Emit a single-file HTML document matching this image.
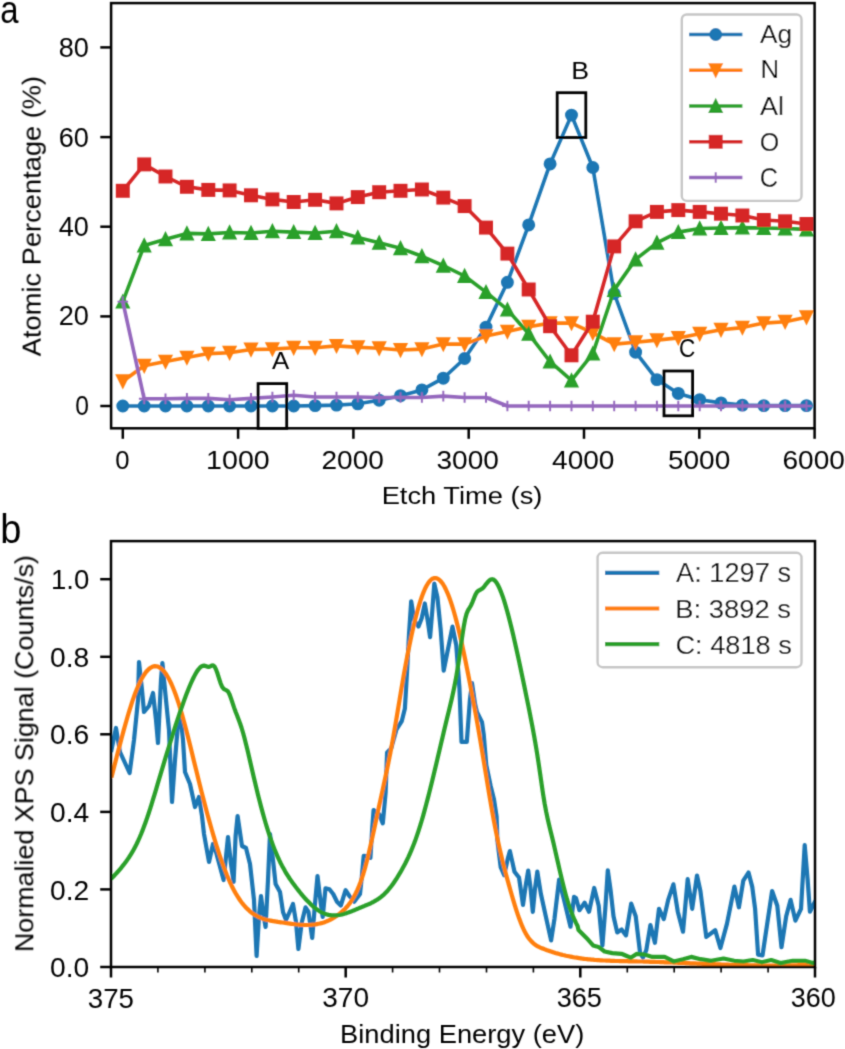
<!DOCTYPE html>
<html><head><meta charset="utf-8"><style>
html,body{margin:0;padding:0;background:#fff;}
svg{display:block;}
text{font-family:"Liberation Sans",sans-serif;fill:#000;}
</style></head><body>
<svg width="845" height="1049" viewBox="0 0 845 1049">
<defs><filter id="soft" x="0" y="0" width="845" height="1049" filterUnits="userSpaceOnUse"><feConvolveMatrix order="3" kernelMatrix="0.02768 0.11101 0.02768 0.11101 0.44521 0.11101 0.02768 0.11101 0.02768" edgeMode="duplicate"/></filter><clipPath id="clipA"><rect x="111.1" y="3.1" width="703.5" height="425.2"/></clipPath>
<clipPath id="clipB"><rect x="111.0" y="541.1" width="704.0" height="425.9"/></clipPath></defs>
<rect x="0" y="0" width="845" height="1049" fill="#fff"/>
<g filter="url(#soft)">
<g clip-path="url(#clipA)">
<polyline points="122.8,406.0 144.2,406.0 165.5,406.0 186.9,406.0 208.3,406.0 229.6,406.0 251.0,406.0 272.4,406.0 293.7,406.0 315.1,405.6 336.5,405.1 357.8,403.8 379.2,400.2 400.5,395.7 421.9,389.9 443.3,378.2 464.6,358.5 486.0,327.1 507.4,282.3 528.7,224.9 550.1,163.9 571.5,115.1 592.8,167.5 614.2,293.5 635.6,352.2 656.9,379.6 678.3,393.4 699.7,399.7 721.0,402.9 742.4,405.1 763.8,405.6 785.1,405.6 806.5,405.6" fill="none" stroke="#1f77b4" stroke-width="3.6" stroke-linejoin="round" stroke-linecap="butt"/>
<circle cx="122.8" cy="406.0" r="5.5" fill="#1f77b4" stroke="#1f77b4" stroke-width="1.95"/>
<circle cx="144.2" cy="406.0" r="5.5" fill="#1f77b4" stroke="#1f77b4" stroke-width="1.95"/>
<circle cx="165.5" cy="406.0" r="5.5" fill="#1f77b4" stroke="#1f77b4" stroke-width="1.95"/>
<circle cx="186.9" cy="406.0" r="5.5" fill="#1f77b4" stroke="#1f77b4" stroke-width="1.95"/>
<circle cx="208.3" cy="406.0" r="5.5" fill="#1f77b4" stroke="#1f77b4" stroke-width="1.95"/>
<circle cx="229.6" cy="406.0" r="5.5" fill="#1f77b4" stroke="#1f77b4" stroke-width="1.95"/>
<circle cx="251.0" cy="406.0" r="5.5" fill="#1f77b4" stroke="#1f77b4" stroke-width="1.95"/>
<circle cx="272.4" cy="406.0" r="5.5" fill="#1f77b4" stroke="#1f77b4" stroke-width="1.95"/>
<circle cx="293.7" cy="406.0" r="5.5" fill="#1f77b4" stroke="#1f77b4" stroke-width="1.95"/>
<circle cx="315.1" cy="405.6" r="5.5" fill="#1f77b4" stroke="#1f77b4" stroke-width="1.95"/>
<circle cx="336.5" cy="405.1" r="5.5" fill="#1f77b4" stroke="#1f77b4" stroke-width="1.95"/>
<circle cx="357.8" cy="403.8" r="5.5" fill="#1f77b4" stroke="#1f77b4" stroke-width="1.95"/>
<circle cx="379.2" cy="400.2" r="5.5" fill="#1f77b4" stroke="#1f77b4" stroke-width="1.95"/>
<circle cx="400.5" cy="395.7" r="5.5" fill="#1f77b4" stroke="#1f77b4" stroke-width="1.95"/>
<circle cx="421.9" cy="389.9" r="5.5" fill="#1f77b4" stroke="#1f77b4" stroke-width="1.95"/>
<circle cx="443.3" cy="378.2" r="5.5" fill="#1f77b4" stroke="#1f77b4" stroke-width="1.95"/>
<circle cx="464.6" cy="358.5" r="5.5" fill="#1f77b4" stroke="#1f77b4" stroke-width="1.95"/>
<circle cx="486.0" cy="327.1" r="5.5" fill="#1f77b4" stroke="#1f77b4" stroke-width="1.95"/>
<circle cx="507.4" cy="282.3" r="5.5" fill="#1f77b4" stroke="#1f77b4" stroke-width="1.95"/>
<circle cx="528.7" cy="224.9" r="5.5" fill="#1f77b4" stroke="#1f77b4" stroke-width="1.95"/>
<circle cx="550.1" cy="163.9" r="5.5" fill="#1f77b4" stroke="#1f77b4" stroke-width="1.95"/>
<circle cx="571.5" cy="115.1" r="5.5" fill="#1f77b4" stroke="#1f77b4" stroke-width="1.95"/>
<circle cx="592.8" cy="167.5" r="5.5" fill="#1f77b4" stroke="#1f77b4" stroke-width="1.95"/>
<circle cx="614.2" cy="293.5" r="5.5" fill="#1f77b4" stroke="#1f77b4" stroke-width="1.95"/>
<circle cx="635.6" cy="352.2" r="5.5" fill="#1f77b4" stroke="#1f77b4" stroke-width="1.95"/>
<circle cx="656.9" cy="379.6" r="5.5" fill="#1f77b4" stroke="#1f77b4" stroke-width="1.95"/>
<circle cx="678.3" cy="393.4" r="5.5" fill="#1f77b4" stroke="#1f77b4" stroke-width="1.95"/>
<circle cx="699.7" cy="399.7" r="5.5" fill="#1f77b4" stroke="#1f77b4" stroke-width="1.95"/>
<circle cx="721.0" cy="402.9" r="5.5" fill="#1f77b4" stroke="#1f77b4" stroke-width="1.95"/>
<circle cx="742.4" cy="405.1" r="5.5" fill="#1f77b4" stroke="#1f77b4" stroke-width="1.95"/>
<circle cx="763.8" cy="405.6" r="5.5" fill="#1f77b4" stroke="#1f77b4" stroke-width="1.95"/>
<circle cx="785.1" cy="405.6" r="5.5" fill="#1f77b4" stroke="#1f77b4" stroke-width="1.95"/>
<circle cx="806.5" cy="405.6" r="5.5" fill="#1f77b4" stroke="#1f77b4" stroke-width="1.95"/>
<polyline points="122.8,381.3 144.2,365.7 165.5,361.6 186.9,357.6 208.3,353.6 229.6,352.7 251.0,349.5 272.4,349.1 293.7,347.7 315.1,347.7 336.5,345.9 357.8,347.3 379.2,348.2 400.5,350.0 421.9,349.1 443.3,344.1 464.6,344.1 486.0,336.1 507.4,331.6 528.7,326.7 550.1,323.1 571.5,323.1 592.8,332.9 614.2,344.1 635.6,342.3 656.9,340.1 678.3,337.9 699.7,333.8 721.0,329.8 742.4,327.6 763.8,323.1 785.1,321.7 806.5,317.2" fill="none" stroke="#ff7f0e" stroke-width="3.6" stroke-linejoin="round" stroke-linecap="butt"/>
<path d="M122.8,387.3L116.8,375.3L128.8,375.3Z" fill="#ff7f0e" stroke="#ff7f0e" stroke-width="1.95" stroke-linejoin="miter"/>
<path d="M144.2,371.7L138.2,359.7L150.2,359.7Z" fill="#ff7f0e" stroke="#ff7f0e" stroke-width="1.95" stroke-linejoin="miter"/>
<path d="M165.5,367.6L159.5,355.6L171.5,355.6Z" fill="#ff7f0e" stroke="#ff7f0e" stroke-width="1.95" stroke-linejoin="miter"/>
<path d="M186.9,363.6L180.9,351.6L192.9,351.6Z" fill="#ff7f0e" stroke="#ff7f0e" stroke-width="1.95" stroke-linejoin="miter"/>
<path d="M208.3,359.6L202.3,347.6L214.3,347.6Z" fill="#ff7f0e" stroke="#ff7f0e" stroke-width="1.95" stroke-linejoin="miter"/>
<path d="M229.6,358.7L223.6,346.7L235.6,346.7Z" fill="#ff7f0e" stroke="#ff7f0e" stroke-width="1.95" stroke-linejoin="miter"/>
<path d="M251.0,355.5L245.0,343.5L257.0,343.5Z" fill="#ff7f0e" stroke="#ff7f0e" stroke-width="1.95" stroke-linejoin="miter"/>
<path d="M272.4,355.1L266.4,343.1L278.4,343.1Z" fill="#ff7f0e" stroke="#ff7f0e" stroke-width="1.95" stroke-linejoin="miter"/>
<path d="M293.7,353.7L287.7,341.7L299.7,341.7Z" fill="#ff7f0e" stroke="#ff7f0e" stroke-width="1.95" stroke-linejoin="miter"/>
<path d="M315.1,353.7L309.1,341.7L321.1,341.7Z" fill="#ff7f0e" stroke="#ff7f0e" stroke-width="1.95" stroke-linejoin="miter"/>
<path d="M336.5,351.9L330.5,339.9L342.5,339.9Z" fill="#ff7f0e" stroke="#ff7f0e" stroke-width="1.95" stroke-linejoin="miter"/>
<path d="M357.8,353.3L351.8,341.3L363.8,341.3Z" fill="#ff7f0e" stroke="#ff7f0e" stroke-width="1.95" stroke-linejoin="miter"/>
<path d="M379.2,354.2L373.2,342.2L385.2,342.2Z" fill="#ff7f0e" stroke="#ff7f0e" stroke-width="1.95" stroke-linejoin="miter"/>
<path d="M400.5,356.0L394.5,344.0L406.5,344.0Z" fill="#ff7f0e" stroke="#ff7f0e" stroke-width="1.95" stroke-linejoin="miter"/>
<path d="M421.9,355.1L415.9,343.1L427.9,343.1Z" fill="#ff7f0e" stroke="#ff7f0e" stroke-width="1.95" stroke-linejoin="miter"/>
<path d="M443.3,350.1L437.3,338.1L449.3,338.1Z" fill="#ff7f0e" stroke="#ff7f0e" stroke-width="1.95" stroke-linejoin="miter"/>
<path d="M464.6,350.1L458.6,338.1L470.6,338.1Z" fill="#ff7f0e" stroke="#ff7f0e" stroke-width="1.95" stroke-linejoin="miter"/>
<path d="M486.0,342.1L480.0,330.1L492.0,330.1Z" fill="#ff7f0e" stroke="#ff7f0e" stroke-width="1.95" stroke-linejoin="miter"/>
<path d="M507.4,337.6L501.4,325.6L513.4,325.6Z" fill="#ff7f0e" stroke="#ff7f0e" stroke-width="1.95" stroke-linejoin="miter"/>
<path d="M528.7,332.7L522.7,320.7L534.7,320.7Z" fill="#ff7f0e" stroke="#ff7f0e" stroke-width="1.95" stroke-linejoin="miter"/>
<path d="M550.1,329.1L544.1,317.1L556.1,317.1Z" fill="#ff7f0e" stroke="#ff7f0e" stroke-width="1.95" stroke-linejoin="miter"/>
<path d="M571.5,329.1L565.5,317.1L577.5,317.1Z" fill="#ff7f0e" stroke="#ff7f0e" stroke-width="1.95" stroke-linejoin="miter"/>
<path d="M592.8,338.9L586.8,326.9L598.8,326.9Z" fill="#ff7f0e" stroke="#ff7f0e" stroke-width="1.95" stroke-linejoin="miter"/>
<path d="M614.2,350.1L608.2,338.1L620.2,338.1Z" fill="#ff7f0e" stroke="#ff7f0e" stroke-width="1.95" stroke-linejoin="miter"/>
<path d="M635.6,348.3L629.6,336.3L641.6,336.3Z" fill="#ff7f0e" stroke="#ff7f0e" stroke-width="1.95" stroke-linejoin="miter"/>
<path d="M656.9,346.1L650.9,334.1L662.9,334.1Z" fill="#ff7f0e" stroke="#ff7f0e" stroke-width="1.95" stroke-linejoin="miter"/>
<path d="M678.3,343.9L672.3,331.9L684.3,331.9Z" fill="#ff7f0e" stroke="#ff7f0e" stroke-width="1.95" stroke-linejoin="miter"/>
<path d="M699.7,339.8L693.7,327.8L705.7,327.8Z" fill="#ff7f0e" stroke="#ff7f0e" stroke-width="1.95" stroke-linejoin="miter"/>
<path d="M721.0,335.8L715.0,323.8L727.0,323.8Z" fill="#ff7f0e" stroke="#ff7f0e" stroke-width="1.95" stroke-linejoin="miter"/>
<path d="M742.4,333.6L736.4,321.6L748.4,321.6Z" fill="#ff7f0e" stroke="#ff7f0e" stroke-width="1.95" stroke-linejoin="miter"/>
<path d="M763.8,329.1L757.8,317.1L769.8,317.1Z" fill="#ff7f0e" stroke="#ff7f0e" stroke-width="1.95" stroke-linejoin="miter"/>
<path d="M785.1,327.7L779.1,315.7L791.1,315.7Z" fill="#ff7f0e" stroke="#ff7f0e" stroke-width="1.95" stroke-linejoin="miter"/>
<path d="M806.5,323.2L800.5,311.2L812.5,311.2Z" fill="#ff7f0e" stroke="#ff7f0e" stroke-width="1.95" stroke-linejoin="miter"/>
<polyline points="122.8,301.6 144.2,245.5 165.5,239.3 186.9,233.4 208.3,233.9 229.6,232.5 251.0,233.0 272.4,231.2 293.7,232.1 315.1,233.0 336.5,231.2 357.8,237.5 379.2,242.8 400.5,248.2 421.9,256.3 443.3,265.7 464.6,276.0 486.0,292.1 507.4,309.6 528.7,333.8 550.1,361.6 571.5,380.4 592.8,353.6 614.2,289.9 635.6,259.4 656.9,242.8 678.3,232.1 699.7,228.5 721.0,228.0 742.4,227.6 763.8,228.0 785.1,228.5 806.5,229.4" fill="none" stroke="#2ca02c" stroke-width="3.6" stroke-linejoin="round" stroke-linecap="butt"/>
<path d="M122.8,295.6L116.8,307.6L128.8,307.6Z" fill="#2ca02c" stroke="#2ca02c" stroke-width="1.95" stroke-linejoin="miter"/>
<path d="M144.2,239.5L138.2,251.5L150.2,251.5Z" fill="#2ca02c" stroke="#2ca02c" stroke-width="1.95" stroke-linejoin="miter"/>
<path d="M165.5,233.3L159.5,245.3L171.5,245.3Z" fill="#2ca02c" stroke="#2ca02c" stroke-width="1.95" stroke-linejoin="miter"/>
<path d="M186.9,227.4L180.9,239.4L192.9,239.4Z" fill="#2ca02c" stroke="#2ca02c" stroke-width="1.95" stroke-linejoin="miter"/>
<path d="M208.3,227.9L202.3,239.9L214.3,239.9Z" fill="#2ca02c" stroke="#2ca02c" stroke-width="1.95" stroke-linejoin="miter"/>
<path d="M229.6,226.5L223.6,238.5L235.6,238.5Z" fill="#2ca02c" stroke="#2ca02c" stroke-width="1.95" stroke-linejoin="miter"/>
<path d="M251.0,227.0L245.0,239.0L257.0,239.0Z" fill="#2ca02c" stroke="#2ca02c" stroke-width="1.95" stroke-linejoin="miter"/>
<path d="M272.4,225.2L266.4,237.2L278.4,237.2Z" fill="#2ca02c" stroke="#2ca02c" stroke-width="1.95" stroke-linejoin="miter"/>
<path d="M293.7,226.1L287.7,238.1L299.7,238.1Z" fill="#2ca02c" stroke="#2ca02c" stroke-width="1.95" stroke-linejoin="miter"/>
<path d="M315.1,227.0L309.1,239.0L321.1,239.0Z" fill="#2ca02c" stroke="#2ca02c" stroke-width="1.95" stroke-linejoin="miter"/>
<path d="M336.5,225.2L330.5,237.2L342.5,237.2Z" fill="#2ca02c" stroke="#2ca02c" stroke-width="1.95" stroke-linejoin="miter"/>
<path d="M357.8,231.5L351.8,243.5L363.8,243.5Z" fill="#2ca02c" stroke="#2ca02c" stroke-width="1.95" stroke-linejoin="miter"/>
<path d="M379.2,236.8L373.2,248.8L385.2,248.8Z" fill="#2ca02c" stroke="#2ca02c" stroke-width="1.95" stroke-linejoin="miter"/>
<path d="M400.5,242.2L394.5,254.2L406.5,254.2Z" fill="#2ca02c" stroke="#2ca02c" stroke-width="1.95" stroke-linejoin="miter"/>
<path d="M421.9,250.3L415.9,262.3L427.9,262.3Z" fill="#2ca02c" stroke="#2ca02c" stroke-width="1.95" stroke-linejoin="miter"/>
<path d="M443.3,259.7L437.3,271.7L449.3,271.7Z" fill="#2ca02c" stroke="#2ca02c" stroke-width="1.95" stroke-linejoin="miter"/>
<path d="M464.6,270.0L458.6,282.0L470.6,282.0Z" fill="#2ca02c" stroke="#2ca02c" stroke-width="1.95" stroke-linejoin="miter"/>
<path d="M486.0,286.1L480.0,298.1L492.0,298.1Z" fill="#2ca02c" stroke="#2ca02c" stroke-width="1.95" stroke-linejoin="miter"/>
<path d="M507.4,303.6L501.4,315.6L513.4,315.6Z" fill="#2ca02c" stroke="#2ca02c" stroke-width="1.95" stroke-linejoin="miter"/>
<path d="M528.7,327.8L522.7,339.8L534.7,339.8Z" fill="#2ca02c" stroke="#2ca02c" stroke-width="1.95" stroke-linejoin="miter"/>
<path d="M550.1,355.6L544.1,367.6L556.1,367.6Z" fill="#2ca02c" stroke="#2ca02c" stroke-width="1.95" stroke-linejoin="miter"/>
<path d="M571.5,374.4L565.5,386.4L577.5,386.4Z" fill="#2ca02c" stroke="#2ca02c" stroke-width="1.95" stroke-linejoin="miter"/>
<path d="M592.8,347.6L586.8,359.6L598.8,359.6Z" fill="#2ca02c" stroke="#2ca02c" stroke-width="1.95" stroke-linejoin="miter"/>
<path d="M614.2,283.9L608.2,295.9L620.2,295.9Z" fill="#2ca02c" stroke="#2ca02c" stroke-width="1.95" stroke-linejoin="miter"/>
<path d="M635.6,253.4L629.6,265.4L641.6,265.4Z" fill="#2ca02c" stroke="#2ca02c" stroke-width="1.95" stroke-linejoin="miter"/>
<path d="M656.9,236.8L650.9,248.8L662.9,248.8Z" fill="#2ca02c" stroke="#2ca02c" stroke-width="1.95" stroke-linejoin="miter"/>
<path d="M678.3,226.1L672.3,238.1L684.3,238.1Z" fill="#2ca02c" stroke="#2ca02c" stroke-width="1.95" stroke-linejoin="miter"/>
<path d="M699.7,222.5L693.7,234.5L705.7,234.5Z" fill="#2ca02c" stroke="#2ca02c" stroke-width="1.95" stroke-linejoin="miter"/>
<path d="M721.0,222.0L715.0,234.0L727.0,234.0Z" fill="#2ca02c" stroke="#2ca02c" stroke-width="1.95" stroke-linejoin="miter"/>
<path d="M742.4,221.6L736.4,233.6L748.4,233.6Z" fill="#2ca02c" stroke="#2ca02c" stroke-width="1.95" stroke-linejoin="miter"/>
<path d="M763.8,222.0L757.8,234.0L769.8,234.0Z" fill="#2ca02c" stroke="#2ca02c" stroke-width="1.95" stroke-linejoin="miter"/>
<path d="M785.1,222.5L779.1,234.5L791.1,234.5Z" fill="#2ca02c" stroke="#2ca02c" stroke-width="1.95" stroke-linejoin="miter"/>
<path d="M806.5,223.4L800.5,235.4L812.5,235.4Z" fill="#2ca02c" stroke="#2ca02c" stroke-width="1.95" stroke-linejoin="miter"/>
<polyline points="122.8,190.8 144.2,164.4 165.5,176.5 186.9,186.8 208.3,189.9 229.6,190.4 251.0,195.3 272.4,199.4 293.7,202.0 315.1,199.8 336.5,203.4 357.8,197.1 379.2,192.2 400.5,190.8 421.9,189.5 443.3,197.6 464.6,206.1 486.0,227.6 507.4,253.6 528.7,289.5 550.1,326.2 571.5,355.3 592.8,321.7 614.2,246.4 635.6,221.3 656.9,211.9 678.3,210.1 699.7,211.9 721.0,213.7 742.4,215.5 763.8,220.0 785.1,221.3 806.5,224.0" fill="none" stroke="#d62728" stroke-width="3.6" stroke-linejoin="round" stroke-linecap="butt"/>
<rect x="116.8" y="184.8" width="12.0" height="12.0" fill="#d62728" stroke="#d62728" stroke-width="1.95" stroke-linejoin="miter"/>
<rect x="138.2" y="158.4" width="12.0" height="12.0" fill="#d62728" stroke="#d62728" stroke-width="1.95" stroke-linejoin="miter"/>
<rect x="159.5" y="170.5" width="12.0" height="12.0" fill="#d62728" stroke="#d62728" stroke-width="1.95" stroke-linejoin="miter"/>
<rect x="180.9" y="180.8" width="12.0" height="12.0" fill="#d62728" stroke="#d62728" stroke-width="1.95" stroke-linejoin="miter"/>
<rect x="202.3" y="183.9" width="12.0" height="12.0" fill="#d62728" stroke="#d62728" stroke-width="1.95" stroke-linejoin="miter"/>
<rect x="223.6" y="184.4" width="12.0" height="12.0" fill="#d62728" stroke="#d62728" stroke-width="1.95" stroke-linejoin="miter"/>
<rect x="245.0" y="189.3" width="12.0" height="12.0" fill="#d62728" stroke="#d62728" stroke-width="1.95" stroke-linejoin="miter"/>
<rect x="266.4" y="193.4" width="12.0" height="12.0" fill="#d62728" stroke="#d62728" stroke-width="1.95" stroke-linejoin="miter"/>
<rect x="287.7" y="196.0" width="12.0" height="12.0" fill="#d62728" stroke="#d62728" stroke-width="1.95" stroke-linejoin="miter"/>
<rect x="309.1" y="193.8" width="12.0" height="12.0" fill="#d62728" stroke="#d62728" stroke-width="1.95" stroke-linejoin="miter"/>
<rect x="330.5" y="197.4" width="12.0" height="12.0" fill="#d62728" stroke="#d62728" stroke-width="1.95" stroke-linejoin="miter"/>
<rect x="351.8" y="191.1" width="12.0" height="12.0" fill="#d62728" stroke="#d62728" stroke-width="1.95" stroke-linejoin="miter"/>
<rect x="373.2" y="186.2" width="12.0" height="12.0" fill="#d62728" stroke="#d62728" stroke-width="1.95" stroke-linejoin="miter"/>
<rect x="394.5" y="184.8" width="12.0" height="12.0" fill="#d62728" stroke="#d62728" stroke-width="1.95" stroke-linejoin="miter"/>
<rect x="415.9" y="183.5" width="12.0" height="12.0" fill="#d62728" stroke="#d62728" stroke-width="1.95" stroke-linejoin="miter"/>
<rect x="437.3" y="191.6" width="12.0" height="12.0" fill="#d62728" stroke="#d62728" stroke-width="1.95" stroke-linejoin="miter"/>
<rect x="458.6" y="200.1" width="12.0" height="12.0" fill="#d62728" stroke="#d62728" stroke-width="1.95" stroke-linejoin="miter"/>
<rect x="480.0" y="221.6" width="12.0" height="12.0" fill="#d62728" stroke="#d62728" stroke-width="1.95" stroke-linejoin="miter"/>
<rect x="501.4" y="247.6" width="12.0" height="12.0" fill="#d62728" stroke="#d62728" stroke-width="1.95" stroke-linejoin="miter"/>
<rect x="522.7" y="283.5" width="12.0" height="12.0" fill="#d62728" stroke="#d62728" stroke-width="1.95" stroke-linejoin="miter"/>
<rect x="544.1" y="320.2" width="12.0" height="12.0" fill="#d62728" stroke="#d62728" stroke-width="1.95" stroke-linejoin="miter"/>
<rect x="565.5" y="349.3" width="12.0" height="12.0" fill="#d62728" stroke="#d62728" stroke-width="1.95" stroke-linejoin="miter"/>
<rect x="586.8" y="315.7" width="12.0" height="12.0" fill="#d62728" stroke="#d62728" stroke-width="1.95" stroke-linejoin="miter"/>
<rect x="608.2" y="240.4" width="12.0" height="12.0" fill="#d62728" stroke="#d62728" stroke-width="1.95" stroke-linejoin="miter"/>
<rect x="629.6" y="215.3" width="12.0" height="12.0" fill="#d62728" stroke="#d62728" stroke-width="1.95" stroke-linejoin="miter"/>
<rect x="650.9" y="205.9" width="12.0" height="12.0" fill="#d62728" stroke="#d62728" stroke-width="1.95" stroke-linejoin="miter"/>
<rect x="672.3" y="204.1" width="12.0" height="12.0" fill="#d62728" stroke="#d62728" stroke-width="1.95" stroke-linejoin="miter"/>
<rect x="693.7" y="205.9" width="12.0" height="12.0" fill="#d62728" stroke="#d62728" stroke-width="1.95" stroke-linejoin="miter"/>
<rect x="715.0" y="207.7" width="12.0" height="12.0" fill="#d62728" stroke="#d62728" stroke-width="1.95" stroke-linejoin="miter"/>
<rect x="736.4" y="209.5" width="12.0" height="12.0" fill="#d62728" stroke="#d62728" stroke-width="1.95" stroke-linejoin="miter"/>
<rect x="757.8" y="214.0" width="12.0" height="12.0" fill="#d62728" stroke="#d62728" stroke-width="1.95" stroke-linejoin="miter"/>
<rect x="779.1" y="215.3" width="12.0" height="12.0" fill="#d62728" stroke="#d62728" stroke-width="1.95" stroke-linejoin="miter"/>
<rect x="800.5" y="218.0" width="12.0" height="12.0" fill="#d62728" stroke="#d62728" stroke-width="1.95" stroke-linejoin="miter"/>
<polyline points="122.8,301.6 144.2,398.8 165.5,398.8 186.9,398.4 208.3,398.4 229.6,399.7 251.0,398.4 272.4,397.0 293.7,395.2 315.1,397.0 336.5,397.0 357.8,397.0 379.2,397.5 400.5,397.5 421.9,397.5 443.3,396.1 464.6,397.5 486.0,397.5 507.4,406.0 528.7,406.0 550.1,406.0 571.5,406.0 592.8,406.0 614.2,406.0 635.6,406.0 656.9,406.0 678.3,406.0 699.7,406.0 721.0,406.0 742.4,406.0 763.8,406.0 785.1,406.0 806.5,406.0" fill="none" stroke="#9467bd" stroke-width="3.6" stroke-linejoin="round" stroke-linecap="butt"/>
<path d="M117.5,301.6H128.1M122.8,296.3V306.9" stroke="#9467bd" stroke-width="1.95" fill="none"/>
<path d="M138.9,398.8H149.5M144.2,393.5V404.1" stroke="#9467bd" stroke-width="1.95" fill="none"/>
<path d="M160.2,398.8H170.8M165.5,393.5V404.1" stroke="#9467bd" stroke-width="1.95" fill="none"/>
<path d="M181.6,398.4H192.2M186.9,393.1V403.7" stroke="#9467bd" stroke-width="1.95" fill="none"/>
<path d="M203.0,398.4H213.6M208.3,393.1V403.7" stroke="#9467bd" stroke-width="1.95" fill="none"/>
<path d="M224.3,399.7H234.9M229.6,394.4V405.0" stroke="#9467bd" stroke-width="1.95" fill="none"/>
<path d="M245.7,398.4H256.3M251.0,393.1V403.7" stroke="#9467bd" stroke-width="1.95" fill="none"/>
<path d="M267.1,397.0H277.7M272.4,391.7V402.3" stroke="#9467bd" stroke-width="1.95" fill="none"/>
<path d="M288.4,395.2H299.0M293.7,389.9V400.5" stroke="#9467bd" stroke-width="1.95" fill="none"/>
<path d="M309.8,397.0H320.4M315.1,391.7V402.3" stroke="#9467bd" stroke-width="1.95" fill="none"/>
<path d="M331.2,397.0H341.8M336.5,391.7V402.3" stroke="#9467bd" stroke-width="1.95" fill="none"/>
<path d="M352.5,397.0H363.1M357.8,391.7V402.3" stroke="#9467bd" stroke-width="1.95" fill="none"/>
<path d="M373.9,397.5H384.5M379.2,392.2V402.8" stroke="#9467bd" stroke-width="1.95" fill="none"/>
<path d="M395.2,397.5H405.8M400.5,392.2V402.8" stroke="#9467bd" stroke-width="1.95" fill="none"/>
<path d="M416.6,397.5H427.2M421.9,392.2V402.8" stroke="#9467bd" stroke-width="1.95" fill="none"/>
<path d="M438.0,396.1H448.6M443.3,390.8V401.4" stroke="#9467bd" stroke-width="1.95" fill="none"/>
<path d="M459.3,397.5H469.9M464.6,392.2V402.8" stroke="#9467bd" stroke-width="1.95" fill="none"/>
<path d="M480.7,397.5H491.3M486.0,392.2V402.8" stroke="#9467bd" stroke-width="1.95" fill="none"/>
<path d="M502.1,406.0H512.7M507.4,400.7V411.3" stroke="#9467bd" stroke-width="1.95" fill="none"/>
<path d="M523.4,406.0H534.0M528.7,400.7V411.3" stroke="#9467bd" stroke-width="1.95" fill="none"/>
<path d="M544.8,406.0H555.4M550.1,400.7V411.3" stroke="#9467bd" stroke-width="1.95" fill="none"/>
<path d="M566.2,406.0H576.8M571.5,400.7V411.3" stroke="#9467bd" stroke-width="1.95" fill="none"/>
<path d="M587.5,406.0H598.1M592.8,400.7V411.3" stroke="#9467bd" stroke-width="1.95" fill="none"/>
<path d="M608.9,406.0H619.5M614.2,400.7V411.3" stroke="#9467bd" stroke-width="1.95" fill="none"/>
<path d="M630.3,406.0H640.9M635.6,400.7V411.3" stroke="#9467bd" stroke-width="1.95" fill="none"/>
<path d="M651.6,406.0H662.2M656.9,400.7V411.3" stroke="#9467bd" stroke-width="1.95" fill="none"/>
<path d="M673.0,406.0H683.6M678.3,400.7V411.3" stroke="#9467bd" stroke-width="1.95" fill="none"/>
<path d="M694.4,406.0H705.0M699.7,400.7V411.3" stroke="#9467bd" stroke-width="1.95" fill="none"/>
<path d="M715.7,406.0H726.3M721.0,400.7V411.3" stroke="#9467bd" stroke-width="1.95" fill="none"/>
<path d="M737.1,406.0H747.7M742.4,400.7V411.3" stroke="#9467bd" stroke-width="1.95" fill="none"/>
<path d="M758.5,406.0H769.1M763.8,400.7V411.3" stroke="#9467bd" stroke-width="1.95" fill="none"/>
<path d="M779.8,406.0H790.4M785.1,400.7V411.3" stroke="#9467bd" stroke-width="1.95" fill="none"/>
<path d="M801.2,406.0H811.8M806.5,400.7V411.3" stroke="#9467bd" stroke-width="1.95" fill="none"/>
</g>
<rect x="258.1" y="383.6" width="28.6" height="44.8" fill="none" stroke="#000" stroke-width="2.8"/>
<rect x="557.2" y="92.7" width="28.6" height="44.8" fill="none" stroke="#000" stroke-width="2.8"/>
<rect x="664.0" y="371.0" width="28.6" height="44.8" fill="none" stroke="#000" stroke-width="2.8"/>
<rect x="111.1" y="3.1" width="703.5" height="425.2" fill="none" stroke="#000" stroke-width="2.5"/>
<line x1="122.8" y1="428.3" x2="122.8" y2="438.8" stroke="#000" stroke-width="2.5"/>
<line x1="238.1" y1="428.3" x2="238.1" y2="438.8" stroke="#000" stroke-width="2.5"/>
<line x1="353.4" y1="428.3" x2="353.4" y2="438.8" stroke="#000" stroke-width="2.5"/>
<line x1="468.7" y1="428.3" x2="468.7" y2="438.8" stroke="#000" stroke-width="2.5"/>
<line x1="584.0" y1="428.3" x2="584.0" y2="438.8" stroke="#000" stroke-width="2.5"/>
<line x1="699.3" y1="428.3" x2="699.3" y2="438.8" stroke="#000" stroke-width="2.5"/>
<line x1="814.6" y1="428.3" x2="814.6" y2="438.8" stroke="#000" stroke-width="2.5"/>
<line x1="100.3" y1="406.0" x2="111.1" y2="406.0" stroke="#000" stroke-width="2.5"/>
<line x1="100.3" y1="316.4" x2="111.1" y2="316.4" stroke="#000" stroke-width="2.5"/>
<line x1="100.3" y1="226.7" x2="111.1" y2="226.7" stroke="#000" stroke-width="2.5"/>
<line x1="100.3" y1="137.1" x2="111.1" y2="137.1" stroke="#000" stroke-width="2.5"/>
<line x1="100.3" y1="47.4" x2="111.1" y2="47.4" stroke="#000" stroke-width="2.5"/>
<rect x="681.8" y="14.5" width="119.7" height="186.4" rx="5" fill="#fff" fill-opacity="0.8" stroke="#c6c6c6" stroke-width="2.4"/>
<line x1="689.1" y1="34.5" x2="742.4" y2="34.5" stroke="#1f77b4" stroke-width="3.6"/>
<circle cx="715.7" cy="34.5" r="5.5" fill="#1f77b4" stroke="#1f77b4" stroke-width="1.95"/>
<line x1="689.1" y1="70.2" x2="742.4" y2="70.2" stroke="#ff7f0e" stroke-width="3.6"/>
<path d="M715.7,76.2L709.7,64.2L721.7,64.2Z" fill="#ff7f0e" stroke="#ff7f0e" stroke-width="1.95" stroke-linejoin="miter"/>
<line x1="689.1" y1="106.0" x2="742.4" y2="106.0" stroke="#2ca02c" stroke-width="3.6"/>
<path d="M715.7,100.0L709.7,112.0L721.7,112.0Z" fill="#2ca02c" stroke="#2ca02c" stroke-width="1.95" stroke-linejoin="miter"/>
<line x1="689.1" y1="141.8" x2="742.4" y2="141.8" stroke="#d62728" stroke-width="3.6"/>
<rect x="709.7" y="135.8" width="12.0" height="12.0" fill="#d62728" stroke="#d62728" stroke-width="1.95" stroke-linejoin="miter"/>
<line x1="689.1" y1="177.5" x2="742.4" y2="177.5" stroke="#9467bd" stroke-width="3.6"/>
<path d="M710.4,177.5H721.0M715.7,172.2V182.8" stroke="#9467bd" stroke-width="1.95" fill="none"/>
<g clip-path="url(#clipB)">
<polyline points="111.0,752.0 116.0,728.0 120.0,752.0 129.6,773.0 134.0,740.0 138.0,700.0 139.0,662.0 142.0,690.0 144.0,712.0 149.0,706.0 153.0,693.0 156.0,720.0 158.0,743.0 161.0,680.0 162.4,663.0 166.0,700.0 169.0,730.0 172.0,802.0 175.0,760.0 178.0,724.0 180.4,714.0 183.0,740.0 185.0,772.0 190.0,784.0 195.0,807.0 199.0,797.0 202.0,816.0 204.0,834.0 209.0,862.0 213.0,844.0 216.0,852.0 223.6,880.0 228.0,837.0 231.0,864.0 233.6,882.0 235.6,836.0 237.6,816.0 242.0,846.0 246.0,848.0 250.0,864.0 254.0,900.0 256.6,956.0 259.0,916.0 261.0,896.0 263.6,916.0 265.6,927.0 268.0,880.0 270.0,834.0 273.0,860.0 275.6,884.0 280.0,892.0 283.0,912.0 286.0,920.0 289.6,912.0 293.0,904.0 296.0,922.0 298.4,949.0 301.7,922.7 305.5,907.4 308.5,912.0 312.2,938.0 315.0,903.6 317.5,876.0 320.8,903.6 322.7,917.0 325.5,888.3 329.4,889.3 333.2,894.0 337.0,901.7 340.8,905.5 345.6,890.2 349.4,896.0 354.2,901.7 360.0,894.0 361.8,876.9 363.7,855.9 367.0,856.0 370.4,857.8 372.3,827.3 373.6,810.0 379.0,813.9 382.8,823.4 385.6,792.9 387.1,752.4 391.3,748.2 396.5,729.3 401.8,721.0 404.9,708.4 407.0,672.7 409.1,632.9 411.2,601.4 414.4,620.3 418.5,626.6 421.7,618.2 424.8,603.5 428.0,622.4 430.1,637.1 432.2,611.9 434.3,583.6 437.4,597.3 440.6,628.7 443.7,670.6 447.9,649.7 452.5,626.6 456.3,645.5 459.4,687.4 461.5,741.9 466.8,741.9 469.9,700.0 472.0,683.2 475.1,704.2 476.9,712.0 482.0,722.3 483.7,734.3 486.3,765.2 490.6,785.8 494.0,799.5 496.6,816.6 497.4,840.6 500.7,867.2 504.2,875.2 507.6,859.2 509.9,851.1 512.2,861.4 514.5,871.7 519.0,877.5 523.0,904.9 525.9,884.3 528.2,870.6 530.5,887.8 532.8,911.8 535.0,888.9 537.3,871.7 540.8,893.5 545.3,914.1 551.1,940.4 554.5,918.6 559.1,879.7 563.6,898.0 570.5,926.7 574.0,896.9 576.0,898.0 579.4,910.2 584.6,902.8 589.0,911.7 594.2,888.0 598.7,905.8 602.4,945.7 605.3,908.8 607.8,870.3 610.5,889.5 613.5,916.2 617.2,932.4 621.6,929.5 626.0,935.4 631.2,903.6 635.7,916.2 640.1,953.1 643.0,957.6 646.3,950.2 650.4,925.0 654.9,942.8 659.0,908.8 663.8,919.1 668.2,899.9 673.4,884.3 677.8,911.7 683.0,931.7 687.7,879.2 692.2,908.8 697.0,875.5 700.4,891.0 706.3,936.9 715.2,930.2 720.4,948.0 727.0,923.6 734.4,886.6 738.9,907.3 743.3,880.7 748.5,872.5 752.2,886.6 755.1,908.8 758.1,954.6 762.5,955.4 772.1,891.0 777.3,905.8 781.5,947.2 786.2,916.2 790.6,899.9 795.4,920.6 801.0,908.8 804.7,845.1 807.6,879.2 809.9,911.7 813.6,904.3 816.0,900.0" fill="none" stroke="#1f77b4" stroke-width="4.2" stroke-linejoin="round" stroke-linecap="butt"/>
<polyline points="111.4,777.5 112.9,771.7 114.4,765.8 115.9,760.0 117.4,754.1 118.9,748.4 120.4,742.6 121.9,737.0 123.4,731.4 124.9,726.0 126.4,720.7 127.9,715.5 129.4,710.6 130.9,705.8 132.4,701.2 133.9,696.9 135.4,692.8 136.9,689.0 138.4,685.5 139.9,682.3 141.4,679.3 142.9,676.7 144.4,674.3 145.9,672.2 147.4,670.5 148.9,669.0 150.4,667.8 151.9,667.0 153.4,666.4 154.9,666.2 156.4,666.3 157.9,666.6 159.4,667.4 160.9,668.4 162.4,669.7 163.9,671.3 165.4,673.3 166.9,675.5 168.4,678.0 169.9,680.9 171.4,684.0 172.9,687.5 174.4,691.2 175.9,695.2 177.4,699.6 178.9,704.2 180.4,709.1 181.9,714.2 183.4,719.5 184.9,725.1 186.4,730.8 187.9,736.6 189.4,742.6 190.9,748.6 192.4,754.7 193.9,760.9 195.4,767.0 196.9,773.1 198.4,779.2 199.9,785.3 201.4,791.2 202.9,797.1 204.4,802.9 205.9,808.6 207.4,814.2 208.9,819.6 210.4,825.0 211.9,830.3 213.4,835.4 214.9,840.4 216.4,845.3 217.9,850.0 219.4,854.6 220.9,859.0 222.4,863.3 223.9,867.4 225.4,871.3 226.9,875.1 228.4,878.6 229.9,882.0 231.4,885.2 232.9,888.2 234.4,891.1 235.9,893.7 237.4,896.2 238.9,898.5 240.4,900.7 241.9,902.7 243.4,904.6 244.9,906.3 246.4,908.0 247.9,909.4 249.4,910.8 250.9,912.1 252.4,913.2 253.9,914.2 255.4,915.2 256.9,916.0 258.4,916.8 259.9,917.5 261.4,918.1 262.9,918.7 264.4,919.2 265.9,919.6 267.4,920.0 268.9,920.3 270.4,920.6 271.9,920.9 273.4,921.2 274.9,921.4 276.4,921.6 277.9,921.9 279.4,922.1 280.9,922.3 282.4,922.5 283.9,922.7 285.4,922.9 286.9,923.2 288.4,923.4 289.9,923.6 291.4,923.8 292.9,924.0 294.4,924.2 295.9,924.4 297.4,924.5 298.9,924.6 300.4,924.8 301.9,924.9 303.4,924.9 304.9,925.0 306.4,925.0 307.9,925.0 309.4,924.9 310.9,924.9 312.4,924.7 313.9,924.6 315.4,924.4 316.9,924.1 318.4,923.8 319.9,923.5 321.4,923.1 322.9,922.7 324.4,922.2 325.9,921.6 327.4,921.0 328.9,920.4 330.4,919.6 331.9,918.8 333.4,918.0 334.9,917.0 336.4,916.0 337.9,915.0 339.4,913.8 340.9,912.6 342.4,911.3 343.9,909.9 345.4,908.4 346.9,906.8 348.4,905.0 349.9,903.1 351.4,900.9 352.9,898.5 354.4,895.9 355.9,893.0 357.4,889.8 358.9,886.3 360.4,882.4 361.9,878.1 363.4,873.5 364.9,868.4 366.4,862.8 367.9,856.9 369.4,850.5 370.9,844.0 372.4,837.1 373.9,830.2 375.4,823.2 376.9,816.2 378.4,809.3 379.9,802.5 381.4,795.6 382.9,788.8 384.4,781.8 385.9,774.8 387.4,767.5 388.9,760.1 390.4,752.5 391.9,744.6 393.4,736.3 394.9,727.7 396.4,718.9 397.9,709.8 399.4,700.8 400.9,691.8 402.4,683.0 403.9,674.4 405.4,666.1 406.9,658.1 408.4,650.4 409.9,643.0 411.4,635.9 412.9,629.1 414.4,622.7 415.9,616.7 417.4,611.0 418.9,605.8 420.4,600.9 421.9,596.5 423.4,592.6 424.9,589.0 426.4,586.0 427.9,583.5 429.4,581.5 430.9,579.9 432.4,578.8 433.9,578.2 435.4,578.0 436.9,578.4 438.4,579.1 439.9,580.3 441.4,582.0 442.9,584.0 444.4,586.5 445.9,589.5 447.4,592.8 448.9,596.5 450.4,600.6 451.9,605.1 453.4,610.0 454.9,615.3 456.4,620.9 457.9,626.8 459.4,633.0 460.9,639.5 462.4,646.3 463.9,653.3 465.4,660.5 466.9,668.0 468.4,675.5 469.9,683.2 471.4,691.0 472.9,698.9 474.4,707.0 475.9,715.2 477.4,723.6 478.9,732.2 480.4,741.0 481.9,749.9 483.4,759.0 484.9,768.1 486.4,777.2 487.9,786.3 489.4,795.3 490.9,804.1 492.4,812.6 493.9,820.8 495.4,828.7 496.9,836.2 498.4,843.2 499.9,849.9 501.4,856.3 502.9,862.4 504.4,868.3 505.9,874.0 507.4,879.5 508.9,884.9 510.4,890.3 511.9,895.5 513.4,900.6 514.9,905.6 516.4,910.3 517.9,914.8 519.4,919.1 520.9,923.0 522.4,926.7 523.9,930.0 525.4,932.9 526.9,935.5 528.4,937.7 529.9,939.7 531.4,941.4 532.9,942.8 534.4,944.1 535.9,945.2 537.4,946.1 538.9,946.9 540.4,947.6 541.9,948.2 543.4,948.8 544.9,949.4 546.4,950.0 547.9,950.5 549.4,951.0 550.9,951.5 552.4,952.0 553.9,952.5 555.4,953.0 556.9,953.4 558.4,953.8 559.9,954.2 561.4,954.6 562.9,955.0 564.4,955.3 565.9,955.7 567.4,956.0 568.9,956.3 570.4,956.6 571.9,956.9 573.4,957.2 574.9,957.5 576.4,957.7 577.9,957.9 579.4,958.2 580.9,958.4 582.4,958.6 583.9,958.8 585.4,959.0 586.9,959.1 588.4,959.3 589.9,959.4 591.4,959.6 592.9,959.7 594.4,959.9 595.9,960.0 597.4,960.1 598.9,960.2 600.4,960.3 601.9,960.4 603.4,960.5 604.9,960.5 606.4,960.6 607.9,960.7 609.4,960.7 610.9,960.8 612.4,960.9 613.9,960.9 615.4,961.0 616.9,961.0 618.4,961.0 619.9,961.1 621.4,961.1 622.9,961.1 624.4,961.2 625.9,961.2 627.4,961.2 628.9,961.3 630.4,961.3 631.9,961.3 633.4,961.4 634.9,961.4 636.4,961.4 637.9,961.5 639.4,961.5 640.9,961.5 642.4,961.5 643.9,961.6 645.4,961.6 646.9,961.7 648.4,961.7 649.9,961.8 651.4,961.8 652.9,961.9 654.4,961.9 655.9,962.0 657.4,962.0 658.9,962.0 660.4,962.1 661.9,962.1 663.4,962.2 664.9,962.3 666.4,962.3 667.9,962.4 669.4,962.4 670.9,962.5 672.4,962.5 673.9,962.6 675.4,962.7 676.9,962.7 678.4,962.8 679.9,962.8 681.4,962.9 682.9,963.0 684.4,963.0 685.9,963.1 687.4,963.1 688.9,963.2 690.4,963.3 691.9,963.3 693.4,963.4 694.9,963.4 696.4,963.5 697.9,963.6 699.4,963.6 700.9,963.7 702.4,963.8 703.9,963.8 705.4,963.9 706.9,963.9 708.4,964.0 709.9,964.0 711.4,964.1 712.9,964.2 714.4,964.2 715.9,964.3 717.4,964.3 718.9,964.4 720.4,964.4 721.9,964.5 723.4,964.5 724.9,964.6 726.4,964.6 727.9,964.7 729.4,964.8 730.9,964.8 732.4,964.9 733.9,964.9 735.4,964.9 736.9,965.0 738.4,965.0 739.9,965.1 741.4,965.1 742.9,965.1 744.4,965.2 745.9,965.2 747.4,965.2 748.9,965.3 750.4,965.3 751.9,965.3 753.4,965.4 754.9,965.4 756.4,965.4 757.9,965.4 759.4,965.5 760.9,965.5 762.4,965.5 763.9,965.5 765.4,965.5 766.9,965.5 768.4,965.5 769.9,965.6 771.4,965.6 772.9,965.6 774.4,965.6 775.9,965.6 777.4,965.6 778.9,965.5 780.4,965.5 781.9,965.5 783.4,965.5 784.9,965.5 786.4,965.5 787.9,965.5 789.4,965.4 790.9,965.4 792.4,965.4 793.9,965.3 795.4,965.3 796.9,965.3 798.4,965.2 799.9,965.2 801.4,965.1 802.9,965.1 804.4,965.0 805.9,965.0 807.4,964.9 808.9,964.9 810.4,964.8 811.9,964.7 813.4,964.6 814.9,964.6 816.4,964.5" fill="none" stroke="#ff7f0e" stroke-width="4.2" stroke-linejoin="round" stroke-linecap="butt"/>
<polyline points="111.1,878.9 112.6,877.3 114.1,875.7 115.6,874.1 117.1,872.5 118.6,870.8 120.1,869.1 121.6,867.3 123.1,865.4 124.6,863.5 126.1,861.5 127.6,859.4 129.1,857.2 130.6,854.8 132.1,852.3 133.6,849.7 135.1,846.9 136.6,844.0 138.1,840.8 139.6,837.5 141.1,834.0 142.6,830.2 144.1,826.3 145.6,822.2 147.1,817.9 148.6,813.5 150.1,808.9 151.6,804.1 153.1,799.2 154.6,794.3 156.1,789.3 157.6,784.2 159.1,779.2 160.6,774.1 162.1,769.1 163.6,764.1 165.1,759.2 166.6,754.2 168.1,749.4 169.6,744.5 171.1,739.7 172.6,734.9 174.1,730.1 175.6,725.5 177.1,720.8 178.6,716.3 180.1,711.8 181.6,707.5 183.1,703.2 184.6,699.1 186.1,695.1 187.6,691.2 189.1,687.5 190.6,684.0 192.1,680.7 193.6,677.5 195.1,674.6 196.6,672.0 198.1,669.8 199.6,668.0 201.1,666.6 202.6,665.8 204.1,665.6 205.6,666.0 207.1,666.6 208.6,666.9 210.1,666.5 211.6,665.6 213.1,665.4 214.6,666.6 216.1,669.6 217.6,673.8 219.1,678.6 220.6,683.2 222.1,686.8 223.6,688.8 225.1,689.6 226.6,690.3 228.1,691.6 229.6,694.5 231.1,698.6 232.6,703.2 234.1,707.6 235.6,711.7 237.1,715.5 238.6,719.4 240.1,723.5 241.6,728.0 243.1,733.0 244.6,738.5 246.1,744.4 247.6,750.6 249.1,757.0 250.6,763.5 252.1,770.0 253.6,776.4 255.1,782.8 256.6,789.1 258.1,795.2 259.6,801.1 261.1,806.9 262.6,812.4 264.1,817.8 265.6,823.0 267.1,827.9 268.6,832.7 270.1,837.2 271.6,841.5 273.1,845.6 274.6,849.5 276.1,853.1 277.6,856.6 279.1,859.9 280.6,863.0 282.1,865.9 283.6,868.6 285.1,871.3 286.6,873.8 288.1,876.2 289.6,878.5 291.1,880.6 292.6,882.8 294.1,884.8 295.6,886.8 297.1,888.7 298.6,890.6 300.1,892.5 301.6,894.3 303.1,896.1 304.6,897.8 306.1,899.5 307.6,901.1 309.1,902.6 310.6,904.1 312.1,905.5 313.6,906.8 315.1,908.1 316.6,909.2 318.1,910.3 319.6,911.2 321.1,912.1 322.6,912.9 324.1,913.5 325.6,914.1 327.1,914.5 328.6,914.9 330.1,915.1 331.6,915.3 333.1,915.4 334.6,915.4 336.1,915.3 337.6,915.2 339.1,915.0 340.6,914.7 342.1,914.4 343.6,914.0 345.1,913.5 346.6,913.1 348.1,912.6 349.6,912.0 351.1,911.5 352.6,910.9 354.1,910.3 355.6,909.6 357.1,909.0 358.6,908.4 360.1,907.7 361.6,907.1 363.1,906.5 364.6,905.9 366.1,905.2 367.6,904.6 369.1,904.0 370.6,903.3 372.1,902.5 373.6,901.8 375.1,900.9 376.6,900.0 378.1,899.1 379.6,898.0 381.1,896.9 382.6,895.6 384.1,894.3 385.6,892.8 387.1,891.3 388.6,889.5 390.1,887.7 391.6,885.8 393.1,883.7 394.6,881.5 396.1,879.3 397.6,876.9 399.1,874.4 400.6,871.9 402.1,869.2 403.6,866.5 405.1,863.7 406.6,860.7 408.1,857.6 409.6,854.3 411.1,850.9 412.6,847.2 414.1,843.4 415.6,839.4 417.1,835.1 418.6,830.6 420.1,825.9 421.6,821.0 423.1,815.8 424.6,810.4 426.1,804.8 427.6,799.1 429.1,793.3 430.6,787.3 432.1,781.2 433.6,775.0 435.1,768.7 436.6,762.4 438.1,756.0 439.6,749.7 441.1,743.3 442.6,736.9 444.1,730.6 445.6,724.3 447.1,718.0 448.6,711.9 450.1,705.8 451.6,699.4 453.1,692.8 454.6,685.5 456.1,677.6 457.6,668.7 459.1,658.7 460.6,648.0 462.1,637.2 463.6,627.4 465.1,619.3 466.6,613.6 468.1,610.2 469.6,607.8 471.1,605.2 472.6,601.8 474.1,597.9 475.6,594.4 477.1,591.9 478.6,590.6 480.1,589.8 481.6,589.0 483.1,587.8 484.6,586.1 486.1,584.1 487.6,582.2 489.1,580.6 490.6,579.5 492.1,579.2 493.6,579.6 495.1,580.9 496.6,582.8 498.1,585.4 499.6,588.5 501.1,592.1 502.6,596.2 504.1,600.7 505.6,605.6 507.1,610.8 508.6,616.4 510.1,622.2 511.6,628.3 513.1,634.6 514.6,641.1 516.1,647.7 517.6,654.5 519.1,661.4 520.6,668.5 522.1,675.6 523.6,682.8 525.1,690.0 526.6,697.4 528.1,704.7 529.6,712.1 531.1,719.8 532.6,727.6 534.1,735.8 535.6,744.4 537.1,753.5 538.6,763.2 540.1,773.5 541.6,784.0 543.1,794.2 544.6,803.4 546.1,811.4 547.6,818.5 549.1,825.0 550.6,831.2 552.1,837.3 553.6,843.6 555.1,850.1 556.6,856.7 558.1,863.3 559.6,869.9 561.1,876.3 562.6,882.6 564.1,888.6 565.6,894.2 567.1,899.5 568.6,904.3 570.1,908.8 571.6,912.8 573.1,916.6 574.6,920.0 576.1,923.1 577.6,926.0 578.5,930.0 586.2,937.7 593.1,945.4 598.5,946.9 604.6,951.5 612.3,953.1 621.5,953.8 630.8,957.7 636.9,953.8 644.6,954.6 652.3,956.9 664.6,956.9 673.8,961.5 683.1,959.2 691.2,956.9 700.4,959.2 711.2,960.8 723.5,958.5 734.2,960.8 743.5,961.5 752.7,960.0 761.9,962.3 771.2,960.0 780.4,963.1 792.7,960.8 805.0,960.8 812.7,963.1 817.0,962.0" fill="none" stroke="#2ca02c" stroke-width="4.2" stroke-linejoin="round" stroke-linecap="butt"/>
</g>
<rect x="111.0" y="541.1" width="704.0" height="425.9" fill="none" stroke="#000" stroke-width="2.5"/>
<line x1="111.0" y1="967.0" x2="111.0" y2="977.5" stroke="#000" stroke-width="2.5"/>
<line x1="345.7" y1="967.0" x2="345.7" y2="977.5" stroke="#000" stroke-width="2.5"/>
<line x1="580.3" y1="967.0" x2="580.3" y2="977.5" stroke="#000" stroke-width="2.5"/>
<line x1="815.0" y1="967.0" x2="815.0" y2="977.5" stroke="#000" stroke-width="2.5"/>
<line x1="768.1" y1="967.0" x2="768.1" y2="972.5" stroke="#000" stroke-width="1.6"/>
<line x1="721.1" y1="967.0" x2="721.1" y2="972.5" stroke="#000" stroke-width="1.6"/>
<line x1="674.2" y1="967.0" x2="674.2" y2="972.5" stroke="#000" stroke-width="1.6"/>
<line x1="627.3" y1="967.0" x2="627.3" y2="972.5" stroke="#000" stroke-width="1.6"/>
<line x1="533.4" y1="967.0" x2="533.4" y2="972.5" stroke="#000" stroke-width="1.6"/>
<line x1="486.5" y1="967.0" x2="486.5" y2="972.5" stroke="#000" stroke-width="1.6"/>
<line x1="439.5" y1="967.0" x2="439.5" y2="972.5" stroke="#000" stroke-width="1.6"/>
<line x1="392.6" y1="967.0" x2="392.6" y2="972.5" stroke="#000" stroke-width="1.6"/>
<line x1="298.7" y1="967.0" x2="298.7" y2="972.5" stroke="#000" stroke-width="1.6"/>
<line x1="251.8" y1="967.0" x2="251.8" y2="972.5" stroke="#000" stroke-width="1.6"/>
<line x1="204.9" y1="967.0" x2="204.9" y2="972.5" stroke="#000" stroke-width="1.6"/>
<line x1="157.9" y1="967.0" x2="157.9" y2="972.5" stroke="#000" stroke-width="1.6"/>
<line x1="100.2" y1="967.0" x2="111.0" y2="967.0" stroke="#000" stroke-width="2.5"/>
<line x1="100.2" y1="889.4" x2="111.0" y2="889.4" stroke="#000" stroke-width="2.5"/>
<line x1="100.2" y1="811.9" x2="111.0" y2="811.9" stroke="#000" stroke-width="2.5"/>
<line x1="100.2" y1="734.3" x2="111.0" y2="734.3" stroke="#000" stroke-width="2.5"/>
<line x1="100.2" y1="656.8" x2="111.0" y2="656.8" stroke="#000" stroke-width="2.5"/>
<line x1="100.2" y1="579.2" x2="111.0" y2="579.2" stroke="#000" stroke-width="2.5"/>
<rect x="597.6" y="552.8" width="203.9" height="114.4" rx="5" fill="#fff" fill-opacity="0.8" stroke="#c6c6c6" stroke-width="2.4"/>
<line x1="605.0" y1="572.9" x2="659.3" y2="572.9" stroke="#1f77b4" stroke-width="4.2"/>
<line x1="605.0" y1="608.5" x2="659.3" y2="608.5" stroke="#ff7f0e" stroke-width="4.2"/>
<line x1="605.0" y1="644.1" x2="659.3" y2="644.1" stroke="#2ca02c" stroke-width="4.2"/>
<text x="122.40" y="468.85" font-size="26.47" text-anchor="middle" textLength="14.29" lengthAdjust="spacingAndGlyphs">0</text>
<text x="237.90" y="468.85" font-size="26.47" text-anchor="middle" textLength="63.59" lengthAdjust="spacingAndGlyphs">1000</text>
<text x="352.70" y="468.85" font-size="26.47" text-anchor="middle" textLength="62.32" lengthAdjust="spacingAndGlyphs">2000</text>
<text x="467.70" y="468.85" font-size="26.47" text-anchor="middle" textLength="62.34" lengthAdjust="spacingAndGlyphs">3000</text>
<text x="583.30" y="468.85" font-size="26.47" text-anchor="middle" textLength="62.34" lengthAdjust="spacingAndGlyphs">4000</text>
<text x="699.10" y="468.85" font-size="26.47" text-anchor="middle" textLength="62.34" lengthAdjust="spacingAndGlyphs">5000</text>
<text x="813.70" y="468.85" font-size="26.47" text-anchor="middle" textLength="62.34" lengthAdjust="spacingAndGlyphs">6000</text>
<text x="82.10" y="415.30" font-size="27.02" text-anchor="middle" textLength="13.66" lengthAdjust="spacingAndGlyphs">0</text>
<text x="73.80" y="325.40" font-size="27.02" text-anchor="middle" textLength="30.18" lengthAdjust="spacingAndGlyphs">20</text>
<text x="73.80" y="235.50" font-size="27.02" text-anchor="middle" textLength="30.10" lengthAdjust="spacingAndGlyphs">40</text>
<text x="73.80" y="146.60" font-size="27.02" text-anchor="middle" textLength="30.18" lengthAdjust="spacingAndGlyphs">60</text>
<text x="73.80" y="56.70" font-size="27.02" text-anchor="middle" textLength="30.18" lengthAdjust="spacingAndGlyphs">80</text>
<text x="69.70" y="977.05" font-size="27.31" text-anchor="middle" textLength="39.20" lengthAdjust="spacingAndGlyphs">0.0</text>
<text x="69.70" y="899.69" font-size="27.31" text-anchor="middle" textLength="39.20" lengthAdjust="spacingAndGlyphs">0.2</text>
<text x="69.70" y="822.33" font-size="27.31" text-anchor="middle" textLength="39.23" lengthAdjust="spacingAndGlyphs">0.4</text>
<text x="69.70" y="743.97" font-size="27.31" text-anchor="middle" textLength="39.20" lengthAdjust="spacingAndGlyphs">0.6</text>
<text x="69.70" y="666.61" font-size="27.31" text-anchor="middle" textLength="39.20" lengthAdjust="spacingAndGlyphs">0.8</text>
<text x="70.20" y="589.25" font-size="27.31" text-anchor="middle" textLength="38.33" lengthAdjust="spacingAndGlyphs">1.0</text>
<text x="110.90" y="1007.60" font-size="27.59" text-anchor="middle" textLength="46.18" lengthAdjust="spacingAndGlyphs">375</text>
<text x="345.60" y="1007.40" font-size="28.17" text-anchor="middle" textLength="46.76" lengthAdjust="spacingAndGlyphs">370</text>
<text x="579.30" y="1007.40" font-size="28.17" text-anchor="middle" textLength="45.33" lengthAdjust="spacingAndGlyphs">365</text>
<text x="813.20" y="1007.40" font-size="28.17" text-anchor="middle" textLength="45.08" lengthAdjust="spacingAndGlyphs">360</text>
<text x="462.05" y="504.00" font-size="24.67" text-anchor="middle" textLength="160.78" lengthAdjust="spacingAndGlyphs">Etch Time (s)</text>
<text x="462.20" y="1042.70" font-size="25.90" text-anchor="middle" textLength="244.24" lengthAdjust="spacingAndGlyphs">Binding Energy (eV)</text>
<text transform="translate(40.63,216.10) rotate(-90)" font-size="25.19" text-anchor="middle" textLength="280.42" lengthAdjust="spacingAndGlyphs">Atomic Percentage (%)</text>
<text transform="translate(33.31,753.55) rotate(-90)" font-size="25.07" text-anchor="middle" textLength="397.14" lengthAdjust="spacingAndGlyphs">Normalied XPS Signal (Counts/s)</text>
<text x="9.30" y="23.45" font-size="39.06" text-anchor="middle" textLength="18.31" lengthAdjust="spacingAndGlyphs">a</text>
<text x="10.75" y="542.70" font-size="41.44" text-anchor="middle" textLength="21.13" lengthAdjust="spacingAndGlyphs">b</text>
<text x="280.60" y="369.00" font-size="24.75" text-anchor="middle" textLength="17.25" lengthAdjust="spacingAndGlyphs">A</text>
<text x="580.10" y="78.60" font-size="23.92" text-anchor="middle" textLength="17.82" lengthAdjust="spacingAndGlyphs">B</text>
<text x="687.20" y="356.60" font-size="25.00" text-anchor="middle" textLength="16.30" lengthAdjust="spacingAndGlyphs">C</text>
<text x="776.00" y="42.80" font-size="26.37" text-anchor="middle" textLength="32.11" lengthAdjust="spacingAndGlyphs">Ag</text>
<text x="769.80" y="78.20" font-size="25.07" text-anchor="middle" textLength="18.66" lengthAdjust="spacingAndGlyphs">N</text>
<text x="771.90" y="115.25" font-size="25.13" text-anchor="middle" textLength="24.00" lengthAdjust="spacingAndGlyphs">Al</text>
<text x="769.60" y="150.75" font-size="26.45" text-anchor="middle" textLength="19.52" lengthAdjust="spacingAndGlyphs">O</text>
<text x="769.00" y="186.50" font-size="27.85" text-anchor="middle" textLength="18.29" lengthAdjust="spacingAndGlyphs">C</text>
<text x="733.50" y="581.90" font-size="27.02" text-anchor="middle" textLength="115.02" lengthAdjust="spacingAndGlyphs">A: 1297 s</text>
<text x="733.10" y="617.55" font-size="26.45" text-anchor="middle" textLength="115.91" lengthAdjust="spacingAndGlyphs">B: 3892 s</text>
<text x="733.60" y="653.75" font-size="26.45" text-anchor="middle" textLength="116.45" lengthAdjust="spacingAndGlyphs">C: 4818 s</text>
</g>
</svg></body></html>
